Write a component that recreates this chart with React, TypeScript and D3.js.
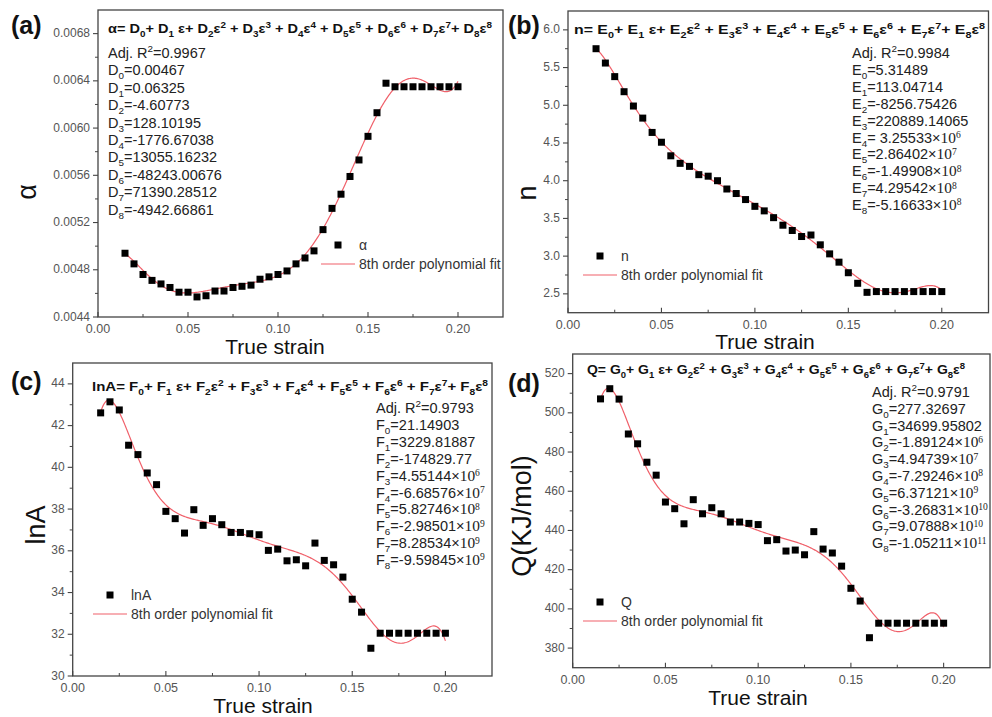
import React from 'react';
import * as d3 from 'd3';

// True strain at which each material constant was evaluated
const strain = [
  0.015, 0.02, 0.025, 0.03, 0.035, 0.04, 0.045, 0.05, 0.055, 0.06,
  0.065, 0.07, 0.075, 0.08, 0.085, 0.09, 0.095, 0.1, 0.105, 0.11,
  0.115, 0.12, 0.125, 0.13, 0.135, 0.14, 0.145, 0.15, 0.155, 0.16,
  0.165, 0.17, 0.175, 0.18, 0.185, 0.19, 0.195, 0.2,
];

const alphaValues = [
  0.00494, 0.00485, 0.00476, 0.00471, 0.00468, 0.00465, 0.00461, 0.00461, 0.00457, 0.00458,
  0.00462, 0.00462, 0.00465, 0.00466, 0.00467, 0.00472, 0.00474, 0.00476, 0.00479, 0.00485,
  0.0049, 0.00496, 0.00514, 0.00532, 0.00544, 0.00559, 0.00573, 0.00593, 0.00613, 0.00638,
  0.00635, 0.00635, 0.00635, 0.00635, 0.00635, 0.00635, 0.00635, 0.00635,
];
const nValues = [
  5.75, 5.56, 5.38, 5.18, 4.99, 4.83, 4.64, 4.51, 4.33, 4.23,
  4.19, 4.08, 4.06, 4.0, 3.89, 3.83, 3.75, 3.66, 3.6, 3.51,
  3.41, 3.34, 3.26, 3.28, 3.15, 3.03, 2.92, 2.78, 2.64, 2.52,
  2.53, 2.53, 2.53, 2.53, 2.53, 2.53, 2.53, 2.53,
];
const lnAValues = [
  42.61, 43.14, 42.75, 41.06, 40.61, 39.73, 39.17, 37.89, 37.54, 36.85,
  37.97, 37.22, 37.54, 37.25, 36.88, 36.88, 36.82, 36.77, 36.02, 36.08,
  35.52, 35.57, 35.28, 36.37, 35.54, 35.33, 34.74, 33.68, 33.06, 31.33,
  32.05, 32.05, 32.05, 32.05, 32.05, 32.05, 32.05, 32.05,
];
const qValues = [
  507.1, 512.3, 507.0, 489.2, 484.2, 474.8, 468.2, 454.5, 451.1, 443.4,
  455.7, 448.5, 451.6, 448.5, 444.3, 444.3, 443.6, 443.0, 434.8, 435.3,
  429.5, 430.0, 427.6, 439.4, 430.5, 428.5, 421.8, 410.5, 404.0, 385.3,
  392.7, 392.7, 392.7, 392.7, 392.7, 392.7, 392.7, 392.7,
];

// 8th order polynomial coefficients, constant term first
const alphaCoef = [0.00467, 0.06325, -4.60773, 128.10195, -1776.67038, 13055.16232, -48243.00676, 71390.28512, -4942.66861];
// E4 is printed without its minus sign; the fitted curve needs the negative value
const nCoef = [5.31489, 113.04714, -8256.75426, 220889.14065, -3.25533e6, 2.86402e7, -1.49908e8, 4.29542e8, -5.16633e8];
const lnACoef = [21.14903, 3229.81887, -174829.77, 4.55144e6, -6.68576e7, 5.82746e8, -2.98501e9, 8.28534e9, -9.59845e9];
const qCoef = [277.32697, 34699.95802, -1.89124e6, 4.94739e7, -7.29246e8, 6.37121e9, -3.26831e10, 9.07888e10, -1.05211e11];

// Markup: _{} subscript, ^{} superscript, ~{} serif, *{} serif superscript
const alphaParams = [
  'Adj. R^{2}=0.9967', 'D_{0}=0.00467', 'D_{1}=0.06325', 'D_{2}=-4.60773', 'D_{3}=128.10195',
  'D_{4}=-1776.67038', 'D_{5}=13055.16232', 'D_{6}=-48243.00676', 'D_{7}=71390.28512', 'D_{8}=-4942.66861',
];
const nParams = [
  'Adj. R^{2}=0.9984', 'E_{0}=5.31489', 'E_{1}=113.04714', 'E_{2}=-8256.75426', 'E_{3}=220889.14065',
  'E_{4}= 3.25533×~{10}*{6}', 'E_{5}=2.86402×~{10}*{7}', 'E_{6}=-1.49908×~{10}*{8}', 'E_{7}=4.29542×~{10}*{8}',
  'E_{8}=-5.16633×~{10}*{8}',
];
const lnAParams = [
  'Adj. R^{2}=0.9793', 'F_{0}=21.14903', 'F_{1}=3229.81887', 'F_{2}=-174829.77', 'F_{3}=4.55144×~{10}*{6}',
  'F_{4}=-6.68576×~{10}*{7}', 'F_{5}=5.82746×~{10}*{8}', 'F_{6}=-2.98501×~{10}*{9}', 'F_{7}=8.28534×~{10}*{9}',
  'F_{8}=-9.59845×~{10}*{9}',
];
const qParams = [
  'Adj. R^{2}=0.9791', 'G_{0}=277.32697', 'G_{1}=34699.95802', 'G_{2}=-1.89124×~{10}*{6}', 'G_{3}=4.94739×~{10}*{7}',
  'G_{4}=-7.29246×~{10}*{8}', 'G_{5}=6.37121×~{10}*{9}', 'G_{6}=-3.26831×~{10}*{10}', 'G_{7}=9.07888×~{10}*{10}',
  'G_{8}=-1.05211×~{10}*{11}',
];

const polyFormula = (lhs: string, c: string) =>
  `${lhs}= ${c}_{0}+ ${c}_{1} ε+ ${c}_{2}ε^{2} + ${c}_{3}ε^{3} + ${c}_{4}ε^{4} + ${c}_{5}ε^{5} + ${c}_{6}ε^{6} + ${c}_{7}ε^{7}+ ${c}_{8}ε^{8}`;

const xTicks = [0, 0.05, 0.1, 0.15, 0.2];
const alphaTicks = [0.0044, 0.0048, 0.0052, 0.0056, 0.006, 0.0064, 0.0068];
const nTicks = [2.5, 3.0, 3.5, 4.0, 4.5, 5.0, 5.5, 6.0];
const lnATicks = [30, 32, 34, 36, 38, 40, 42, 44];
const qTicks = [380, 400, 420, 440, 460, 480, 500, 520];

const FIT_NAME = '8th order polynomial fit';
const SANS = "'Liberation Sans', Arial, sans-serif";
const SERIF = "'Liberation Serif', 'Times New Roman', serif";
const FIT_COLOR = '#f0606a';
const AXIS_COLOR = '#444';
const TICK_TEXT = '#555';

type Seg = { t: string; kind: 'n' | 'sub' | 'sup'; serif: boolean };

function parseRich(s: string): Seg[] {
  const out: Seg[] = [];
  const re = /([_^~*])\{([^}]*)\}/g;
  let last = 0;
  let m: RegExpExecArray | null;
  while ((m = re.exec(s))) {
    if (m.index > last) out.push({ t: s.slice(last, m.index), kind: 'n', serif: false });
    const c = m[1];
    out.push({
      t: m[2],
      kind: c === '_' ? 'sub' : c === '^' || c === '*' ? 'sup' : 'n',
      serif: c === '~' || c === '*',
    });
    last = re.lastIndex;
  }
  if (last < s.length) out.push({ t: s.slice(last), kind: 'n', serif: false });
  return out;
}

function Rich(props: {
  x: number; y: number; text: string; size: number; weight?: string; fill?: string; textLength?: number;
}) {
  const { x, y, text, size, weight = 'normal', fill = '#222', textLength } = props;
  const segs = parseRich(text);
  let cur = 0;
  return (
    <text
      x={x}
      y={y}
      fontFamily={SANS}
      fontSize={size}
      fontWeight={weight}
      fill={fill}
      style={{ whiteSpace: 'pre' }}
      textLength={textLength}
      lengthAdjust={textLength ? 'spacingAndGlyphs' : undefined}
    >
      {segs.map((sg, i) => {
        const target =
          sg.kind === 'sub' ? size * 0.28 : sg.kind === 'sup' ? -size * (sg.serif ? 0.32 : 0.4) : 0;
        const dy = target - cur;
        cur = target;
        const fs = sg.kind === 'n' ? (sg.serif ? size * 1.06 : size) : size * (sg.serif ? 0.66 : 0.68);
        return (
          <tspan key={i} dy={dy} fontSize={fs} fontFamily={sg.serif ? SERIF : undefined}>
            {sg.t}
          </tspan>
        );
      })}
    </text>
  );
}

type Layout = {
  l: number; t: number; r: number; b: number;
  tagX: number; tagY: number;
  yTitleX: number; yTitleY: number;
  xTitleX: number; xTitleY: number;
  fx: number; fy: number; fw: number;
  px: number; py: number; pdy: number;
  lgX: number; lgY: number;
};

type PanelCfg = {
  tag: string;
  values: number[];
  coeffs: number[];
  params: string[];
  formula: string;
  yDomain: [number, number];
  yTicks: number[];
  yMinorStep: number;
  yFmt: string;
  yTitle: string;
  seriesName: string;
  layout: Layout;
};

const panels: PanelCfg[] = [
  {
    tag: '(a)', values: alphaValues, coeffs: alphaCoef, params: alphaParams,
    formula: polyFormula('α', 'D'), yDomain: [0.0044, 0.007], yTicks: alphaTicks, yMinorStep: 0.0002,
    yFmt: '.4f', yTitle: 'α', seriesName: 'α',
    layout: {
      l: 98, t: 10, r: 503, b: 317, tagX: 11, tagY: 34, yTitleX: 36, yTitleY: 192,
      xTitleX: 275, xTitleY: 354, fx: 108, fy: 33, fw: 384, px: 108, py: 58, pdy: 17.4, lgX: 321, lgY: 245,
    },
  },
  {
    tag: '(b)', values: nValues, coeffs: nCoef, params: nParams,
    formula: polyFormula('n', 'E'), yDomain: [2.25, 6.25], yTicks: nTicks, yMinorStep: 0.25,
    yFmt: '.1f', yTitle: 'n', seriesName: 'n',
    layout: {
      l: 568, t: 11, r: 988.5, b: 312.7, tagX: 508, tagY: 34, yTitleX: 536, yTitleY: 193,
      xTitleX: 765, xTitleY: 349, fx: 574, fy: 34, fw: 411, px: 852, py: 58, pdy: 16.9, lgX: 583, lgY: 256,
    },
  },
  {
    tag: '(c)', values: lnAValues, coeffs: lnACoef, params: lnAParams,
    formula: polyFormula('lnA', 'F'), yDomain: [30, 45], yTicks: lnATicks, yMinorStep: 1,
    yFmt: 'd', yTitle: 'lnA', seriesName: 'lnA',
    layout: {
      l: 72.7, t: 363, r: 492, b: 676, tagX: 11, tagY: 390, yTitleX: 45, yTitleY: 525,
      xTitleX: 263, xTitleY: 713, fx: 92, fy: 391, fw: 396, px: 376, py: 413, pdy: 16.9, lgX: 93, lgY: 595,
    },
  },
  {
    tag: '(d)', values: qValues, coeffs: qCoef, params: qParams,
    formula: polyFormula('Q', 'G'), yDomain: [370, 530], yTicks: qTicks, yMinorStep: 10,
    yFmt: 'd', yTitle: 'Q(KJ/mol)', seriesName: 'Q',
    layout: {
      l: 572.7, t: 354, r: 990, b: 667.7, tagX: 508, tagY: 392, yTitleX: 531, yTitleY: 516,
      xTitleX: 758, xTitleY: 705, fx: 587, fy: 374, fw: 378, px: 872, py: 397, pdy: 16.8, lgX: 583, lgY: 602,
    },
  },
];

const X_MAX = 0.225;
const X_MINOR_STEP = 0.025;

function Panel({ cfg }: { cfg: PanelCfg }) {
  const L = cfg.layout;
  const x = d3.scaleLinear().domain([0, X_MAX]).range([L.l, L.r]);
  const y = d3.scaleLinear().domain(cfg.yDomain).range([L.b, L.t]);
  const fmtY = d3.format(cfg.yFmt);
  const fmtX = d3.format('.2f');

  const poly = (e: number) => cfg.coeffs.reduce((s, c, i) => s + c * Math.pow(e, i), 0);
  const e0 = strain[0];
  const e1 = strain[strain.length - 1];
  const samples = d3.range(0, 401).map((i) => e0 + ((e1 - e0) * i) / 400);
  const fitPath = d3
    .line<number>()
    .x((e) => x(e))
    .y((e) => y(poly(e)))(samples) as string;

  const eps = 1e-9;
  const yMinor = d3
    .range(cfg.yDomain[0], cfg.yDomain[1] + eps, cfg.yMinorStep)
    .filter((v) => v > cfg.yDomain[0] + eps && v < cfg.yDomain[1] - eps)
    .filter((v) => !cfg.yTicks.some((t) => Math.abs(t - v) < cfg.yMinorStep / 10));
  const xMinor = d3
    .range(0, X_MAX + eps, X_MINOR_STEP)
    .filter((v) => v > eps && v < X_MAX - eps)
    .filter((v) => !xTicks.some((t) => Math.abs(t - v) < 1e-6));

  const sq = 7;

  return (
    <g>
      {/* frame */}
      <rect x={L.l} y={L.t} width={L.r - L.l} height={L.b - L.t} fill="none" stroke={AXIS_COLOR} strokeWidth={1.3} />

      {/* y axis ticks and labels */}
      {cfg.yTicks.map((v) => (
        <g key={`yt${v}`}>
          <line x1={L.l - 5} x2={L.l} y1={y(v)} y2={y(v)} stroke={AXIS_COLOR} strokeWidth={1.1} />
          <text x={L.l - 8} y={y(v) + 3.5} textAnchor="end" fontFamily={SANS} fontSize={12} fill={TICK_TEXT}>
            {fmtY(v)}
          </text>
        </g>
      ))}
      {yMinor.map((v) => (
        <line key={`ym${v}`} x1={L.l - 3} x2={L.l} y1={y(v)} y2={y(v)} stroke={AXIS_COLOR} strokeWidth={1} />
      ))}

      {/* x axis ticks and labels */}
      {xTicks.map((v) => (
        <g key={`xt${v}`}>
          <line x1={x(v)} x2={x(v)} y1={L.b} y2={L.b - 5} stroke={AXIS_COLOR} strokeWidth={1.1} />
          <text x={x(v)} y={L.b + 16} textAnchor="middle" fontFamily={SANS} fontSize={12.5} fill={TICK_TEXT}>
            {fmtX(v)}
          </text>
        </g>
      ))}
      {xMinor.map((v) => (
        <line key={`xm${v}`} x1={x(v)} x2={x(v)} y1={L.b} y2={L.b - 3} stroke={AXIS_COLOR} strokeWidth={1} />
      ))}

      {/* axis titles */}
      <text x={L.xTitleX} y={L.xTitleY} textAnchor="middle" fontFamily={SANS} fontSize={21} fill="#111">
        True strain
      </text>
      <text
        transform={`translate(${L.yTitleX},${L.yTitleY}) rotate(-90)`}
        textAnchor="middle"
        fontFamily={SANS}
        fontSize={27}
        fill="#111"
      >
        {cfg.yTitle}
      </text>

      {/* panel tag */}
      <text x={L.tagX} y={L.tagY} fontFamily={SANS} fontSize={25} fontWeight="bold" fill="#111">
        {cfg.tag}
      </text>

      {/* fitted polynomial */}
      <path d={fitPath} fill="none" stroke={FIT_COLOR} strokeWidth={1.2} />

      {/* data points */}
      {cfg.values.map((v, i) => (
        <rect key={`p${i}`} x={x(strain[i]) - sq / 2} y={y(v) - sq / 2} width={sq} height={sq} fill="#000" />
      ))}

      {/* fit equation */}
      <Rich x={L.fx} y={L.fy} text={cfg.formula} size={12.5} weight="bold" fill="#111" textLength={L.fw} />

      {/* coefficients */}
      {cfg.params.map((p, i) => (
        <Rich key={`c${i}`} x={L.px} y={L.py + i * L.pdy} text={p} size={14.5} fill="#222" />
      ))}

      {/* legend */}
      <rect x={L.lgX + 17 - sq / 2} y={L.lgY - sq / 2} width={sq} height={sq} fill="#000" />
      <text x={L.lgX + 38} y={L.lgY + 5} fontFamily={SANS} fontSize={14} fill="#333">
        {cfg.seriesName}
      </text>
      <line x1={L.lgX} x2={L.lgX + 34} y1={L.lgY + 19} y2={L.lgY + 19} stroke={FIT_COLOR} strokeWidth={1.2} />
      <text x={L.lgX + 38} y={L.lgY + 24} fontFamily={SANS} fontSize={14} fill="#333">
        {FIT_NAME}
      </text>
    </g>
  );
}

export default function App() {
  return (
    <svg
      width={992}
      height={717}
      viewBox="0 0 992 717"
      style={{ position: 'absolute', left: 0, top: 0, background: '#fff' }}
    >
      <rect width={992} height={717} fill="#fff" />
      {panels.map((p) => (
        <Panel key={p.tag} cfg={p} />
      ))}
    </svg>
  );
}
